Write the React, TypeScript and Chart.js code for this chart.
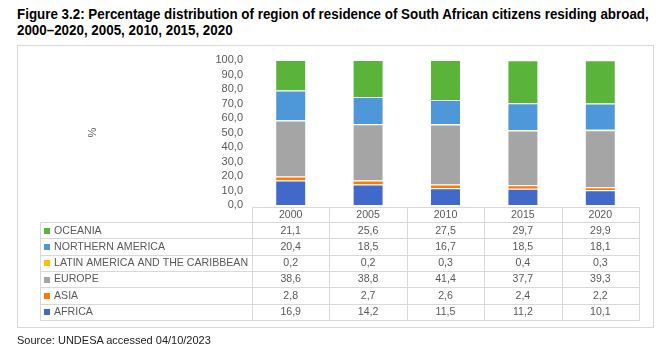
import React, { useEffect, useRef } from "react";
import { Chart, registerables } from "chart.js";

Chart.register(...registerables);

const years = ["2000", "2005", "2010", "2015", "2020"];
const africa = [16.9, 14.2, 11.5, 11.2, 10.1];
const asia = [2.8, 2.7, 2.6, 2.4, 2.2];
const europe = [38.6, 38.8, 41.4, 37.7, 39.3];
const latinAmerica = [0.2, 0.2, 0.3, 0.4, 0.3];
const northernAmerica = [20.4, 18.5, 16.7, 18.5, 18.1];
const oceania = [21.1, 25.6, 27.5, 29.7, 29.9];

const seriesNames = [
  "AFRICA",
  "ASIA",
  "EUROPE",
  "LATIN AMERICA AND THE CARIBBEAN",
  "NORTHERN AMERICA",
  "OCEANIA",
];
const seriesValues = [africa, asia, europe, latinAmerica, northernAmerica, oceania];
const seriesColors = ["#4169C9", "#FF7A00", "#A5A5A5", "#FFC000", "#4E98DA", "#5BB43A"];

const yTitle = "%";
const FONT = "'Liberation Sans', Arial, sans-serif";
const fmt = (v: number) => v.toFixed(1).replace(".", ",");

const tablePlugin = {
  id: "dataTable",
  afterDraw(chart: any) {
    const ctx = chart.ctx as CanvasRenderingContext2D;
    const area = chart.chartArea;
    const xs = chart.scales.x;
    const n = years.length;
    const colW = (area.right - area.left) / n;
    const tableLeft = 40;
    const headTop = area.bottom + 2;
    const headBottom = headTop + 15;
    const rowH = 16.3;
    const nRows = seriesNames.length;
    const tableBottom = headBottom + rowH * nRows;
    ctx.save();
    // outer frame
    ctx.strokeStyle = "#d9d9d9";
    ctx.lineWidth = 1;
    ctx.strokeRect(17.5, 45.5, 636, 282);
    // y title
    ctx.fillStyle = "#595959";
    ctx.font = `11px ${FONT}`;
    ctx.textAlign = "center";
    ctx.textBaseline = "middle";
    ctx.save();
    ctx.translate(93, (area.top + area.bottom) / 2);
    ctx.rotate(-Math.PI / 2);
    ctx.fillText(yTitle, 0, 0);
    ctx.restore();
    // grid lines
    ctx.strokeStyle = "#d9d9d9";
    ctx.beginPath();
    const R = Math.round(area.right) + 0.5;
    ctx.moveTo(Math.round(area.left) + 0.5, Math.round(headTop) + 0.5);
    ctx.lineTo(R, Math.round(headTop) + 0.5);
    for (let r = 0; r <= nRows; r++) {
      const y = Math.round(headBottom + r * rowH) + 0.5;
      ctx.moveTo(tableLeft + 0.5, y);
      ctx.lineTo(R, y);
    }
    for (let c = 0; c <= n; c++) {
      const x = Math.round(area.left + c * colW) + 0.5;
      ctx.moveTo(x, Math.round(headTop) + 0.5);
      ctx.lineTo(x, Math.round(tableBottom) + 0.5);
    }
    ctx.moveTo(tableLeft + 0.5, Math.round(headBottom) + 0.5);
    ctx.lineTo(tableLeft + 0.5, Math.round(tableBottom) + 0.5);
    ctx.stroke();
    // header
    ctx.font = `10.6px ${FONT}`;
    ctx.fillStyle = "#595959";
    ctx.textAlign = "center";
    years.forEach((yr, i) => {
      ctx.fillText(yr, xs.getPixelForValue(i), (headTop + headBottom) / 2 + 0.5);
    });
    // rows, top to bottom = reverse of stack
    for (let r = 0; r < nRows; r++) {
      const s = nRows - 1 - r;
      const cy = headBottom + r * rowH + rowH / 2 + 0.5;
      ctx.fillStyle = seriesColors[s];
      ctx.fillRect(tableLeft + 4, Math.round(cy - 3), 6, 6);
      ctx.fillStyle = "#595959";
      ctx.textAlign = "left";
      ctx.fillText(seriesNames[s], tableLeft + 14, cy);
      ctx.textAlign = "center";
      seriesValues[s].forEach((v, i) => {
        ctx.fillText(fmt(v), xs.getPixelForValue(i), cy);
      });
    }
    ctx.restore();
  },
};

export default function App() {
  const ref = useRef<HTMLCanvasElement>(null);
  useEffect(() => {
    if (!ref.current) return;
    const chart = new Chart(ref.current, {
      type: "bar",
      data: {
        labels: years,
        datasets: seriesNames.map((name, i) => ({
          label: name,
          data: seriesValues[i],
          backgroundColor: seriesColors[i],
          borderColor: "rgba(255,255,255,0.6)",
          borderWidth: 1,
          barPercentage: 0.4,
          categoryPercentage: 1,
        })),
      },
      options: {
        responsive: false,
        animation: false,
        layout: { padding: { left: 0, top: 60, right: 32, bottom: 150 } },
        plugins: { legend: { display: false }, tooltip: { enabled: false } },
        scales: {
          x: { stacked: true, display: false, offset: true },
          y: {
            stacked: true,
            min: 0,
            max: 100,
            afterFit: (s: any) => {
              s.width = 252;
            },
            grid: { display: false, drawTicks: false },
            border: { display: false },
            ticks: {
              stepSize: 10,
              autoSkip: false,
              padding: 9,
              color: "#595959",
              font: { family: FONT, size: 11 },
              callback: (v: any) => fmt(Number(v)),
            },
          },
        },
      },
      plugins: [tablePlugin],
    });
    return () => chart.destroy();
  }, []);
  return (
    <div style={{ position: "absolute", left: 0, top: 0, width: 671, height: 355, background: "#fff" }}>
      <div
        style={{
          position: "absolute",
          left: 17,
          top: 6,
          fontFamily: FONT,
          fontWeight: "bold",
          fontSize: 14,
          lineHeight: "16px",
          color: "#000",
          whiteSpace: "nowrap",
          transform: "scaleX(0.955)",
          transformOrigin: "0 0",
        }}
      >
        Figure 3.2: Percentage distribution of region of residence of South African citizens residing abroad,
        <br />
        2000–2020, 2005, 2010, 2015, 2020
      </div>
      <canvas ref={ref} width={671} height={355} style={{ position: "absolute", left: 0, top: 0 }} />
      <div
        style={{
          position: "absolute",
          left: 17,
          top: 334,
          fontFamily: FONT,
          fontSize: 11,
          color: "#222",
          whiteSpace: "nowrap",
        }}
      >
        Source: UNDESA accessed 04/10/2023
      </div>
    </div>
  );
}
